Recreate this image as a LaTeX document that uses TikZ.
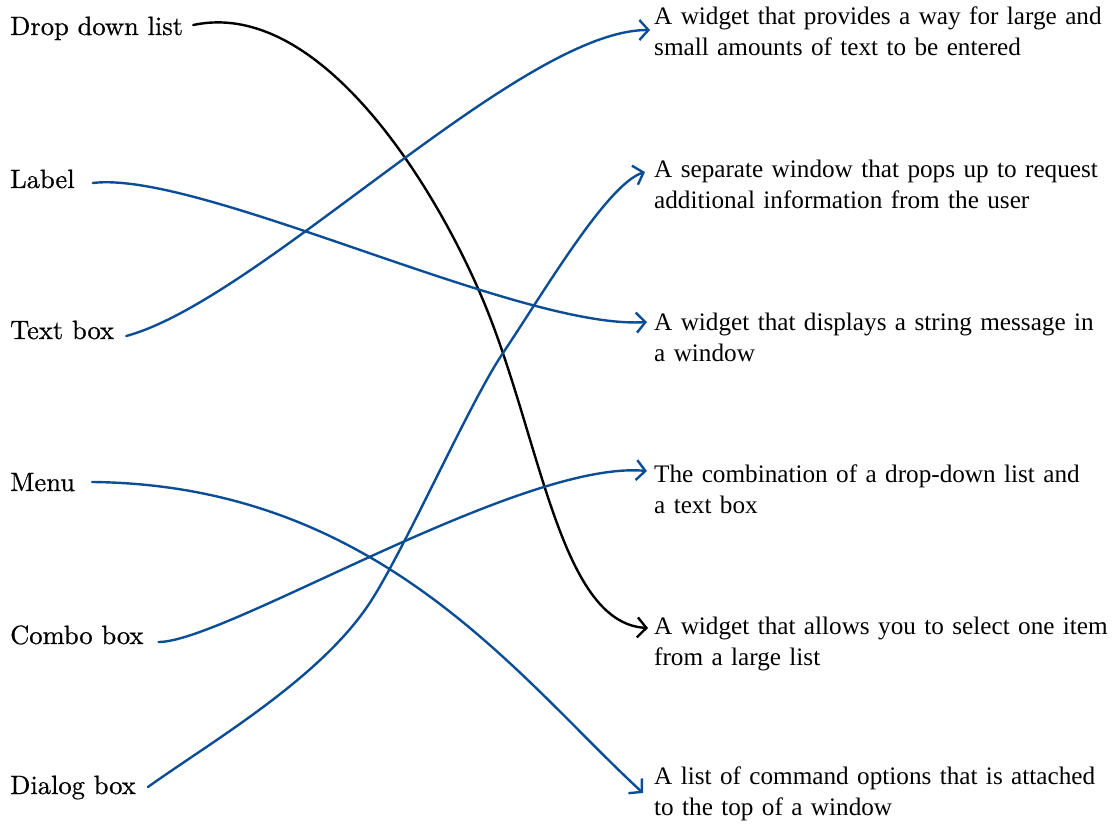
\documentclass[tikz,border=0pt]{standalone}
\usepackage{fontspec}
\newfontfamily\rfont{Liberation Serif}
\newfontfamily\lfont{lmroman10-regular.otf}[FakeBold=0.6]
\usetikzlibrary{arrows.meta,calc}
\definecolor{lnblue}{RGB}{12,78,150}
\begin{document}
\begin{tikzpicture}[x=1pt,y=-1pt,
  lbl/.style={anchor=base west, inner sep=0pt, font=\lfont\fontsize{26.5}{32}\selectfont},
  desc/.style={anchor=base west, inner sep=0pt, text width=520pt, align=left,
               font=\rfont\fontsize{25.2}{31}\selectfont},
  conn/.style={line width=2.4pt, lnblue, line cap=round,
               -{Straight Barb[length=9pt,width=20pt,line width=2.4pt]}},
  connk/.style={conn, draw=black}]
\useasboundingbox (0,0) rectangle (1115,826);
% left terms
\node[lbl] (ddl) at (10,35)  {Drop down list};
\node[lbl] (lab) at (10,188) {Label};
\node[lbl] (tb)  at (10,339) {Text box};
\node[lbl] (men) at (10,491) {Menu};
\node[lbl] (cb)  at (10,644) {Combo box};
\node[lbl] (dlg) at (10,794) {Dialog box};
% right definitions
\node[desc] (d1) at (654,25)  {A widget that provides a way for large and\\small amounts of text to be entered};
\node[desc] (d2) at (654,178) {A separate window that pops up to request\\additional information from the user};
\node[desc] (d3) at (654,330) {A widget that displays a string message in\\a window};
\node[desc] (d4) at (654,482) {The combination of a drop-down list and\\a text box};
\node[desc] (d5) at (654,634) {A widget that allows you to select one item\\from a large list};
\node[desc] (d6) at (654,784) {A list of command options that is attached\\to the top of a window};
% connectors
\draw[connk] ($(ddl.base east)+(10,-10)$) .. controls (315,-1) and (428,173) .. (480,293)
   .. controls (540,431) and (558,623) .. ($(d5.base west)+(-6,-6)$);
\draw[conn] ($(tb.base east)+(12,-3)$) .. controls (260,300) and (520,30) .. ($(d1.base west)+(-4,5)$);
\draw[conn] ($(lab.base east)+(18,-5)$) .. controls (200,170) and (520,330) .. ($(d3.base west)+(-7,-8)$);
\draw[conn] ($(men.base east)+(17,-9)$) .. controls (380,485) and (520,680) .. ($(d6.base west)+(-11,9)$);
\draw[conn] ($(cb.base east)+(15,-2)$) .. controls (225,642) and (520,460) .. ($(d4.base west)+(-7,-11)$);
\draw[conn] ($(dlg.base east)+(12,-7)$) .. controls (211,742) and (316,681) .. (367,607)
   .. controls (401,558) and (469,403) .. (503,353)
   .. controls (542,295) and (607,184) .. ($(d2.base west)+(-9,-6)$);
\end{tikzpicture}
\end{document}
